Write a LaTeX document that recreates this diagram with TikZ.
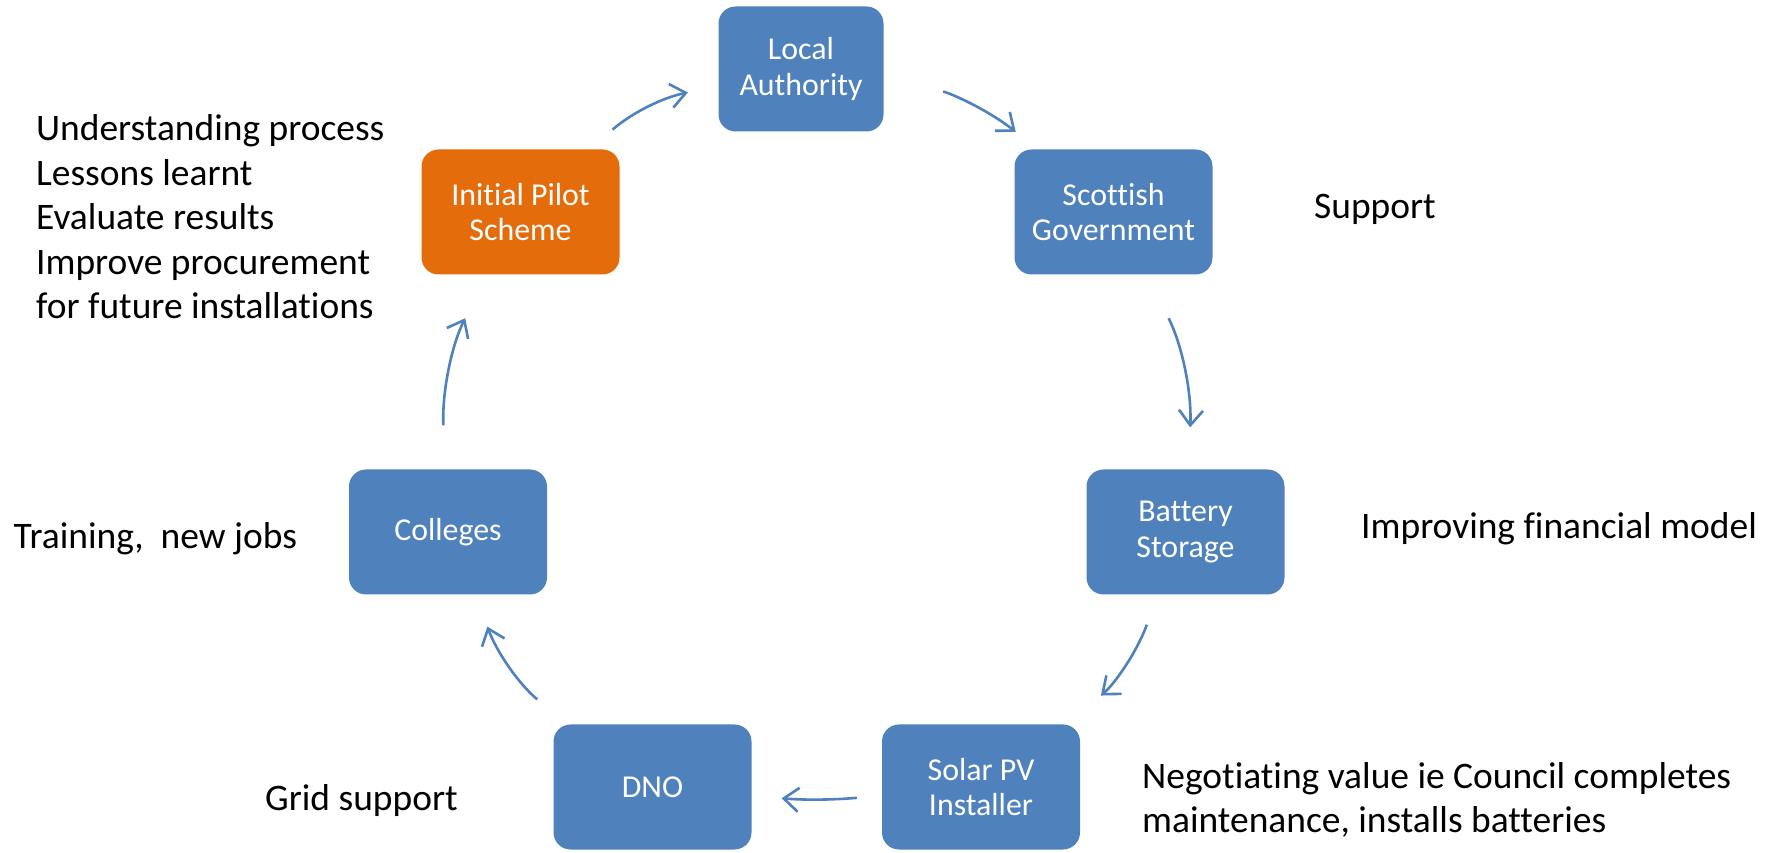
\documentclass[tikz,border=0pt]{standalone}
\usepackage{fontspec}
\setmainfont{Carlito}[Ligatures=NoCommon, RawFeature={-liga;-clig;-calt}]
\usetikzlibrary{arrows.meta, positioning, calc}
\definecolor{BoxBlue}{HTML}{4F81BD}
\definecolor{BoxOrange}{HTML}{E46C0A}
\newcommand{\side}{\fontsize{37.6}{44.6}\selectfont}

\begin{document}
\begin{tikzpicture}[
    x=1bp, y=1bp,
    stage/.style={fill=BoxBlue, rounded corners=17bp, text=white, align=center,
        minimum width=198bp, minimum height=125bp, inner sep=0pt,
        font=\fontsize{32}{36}\selectfont},
    pilot/.style={stage, fill=BoxOrange},
    flow/.style={draw=BoxBlue, line width=2.6bp,
        -{Straight Barb[length=15bp, width=24bp, line width=2.6bp]}},
    note/.style={anchor=west, align=left, inner sep=0pt, font=\side}
]
\useasboundingbox (0,0) rectangle (1769,853);

\node[stage, minimum width=165bp] (la) at (801,784) {Local\\Authority};
\node[stage] (sg) at (1113.5,641) {Scottish\\Government};
\node[stage] (bs) at (1185.5,321) {Battery\\Storage};
\node[stage] (pv) at (981,66) {Solar PV\\Installer};
\node[stage] (dno) at (652.5,66) {DNO};
\node[stage] (col) at (448,321) {Colleges};
\node[pilot] (ips) at (520.5,641) {Initial Pilot\\Scheme};

\draw[flow, shorten <=30bp, shorten >=31bp] (ips) to[bend left=15] (la);
\draw[flow, shorten <=60bp, shorten >=28bp] (la) to[bend left=15] (sg);
\draw[flow, shorten <=49bp, shorten >=42bp] (sg) to[bend left=15] (bs);
\draw[flow, shorten <=32bp, shorten >=45bp] (bs) to[bend left=15] (pv);
\draw[flow, shorten <=25bp, shorten >=30bp] (pv) to[bend left=5] (dno);
\draw[flow, shorten <=39bp, shorten >=34bp] (dno) to[bend left=15] (col);
\draw[flow, shorten <=44bp, shorten >=49bp] (col) to[bend left=15] (ips);

\node[note] (lessons) at (36,636) {Understanding process\\Lessons learnt\\Evaluate results\\Improve procurement\\for future installations};
\node[note] (support) at (1314,644) {Support};
\node[note] (finance) at (1361,324) {Improving financial model};
\node[note] (training) at (13.5,314) {Training,\ \ new jobs};
\node[note] (grid) at (265,52) {Grid support};
\node[note] (value) at (1142,53) {Negotiating value ie Council completes\\maintenance, installs batteries};

\end{tikzpicture}
\end{document}
